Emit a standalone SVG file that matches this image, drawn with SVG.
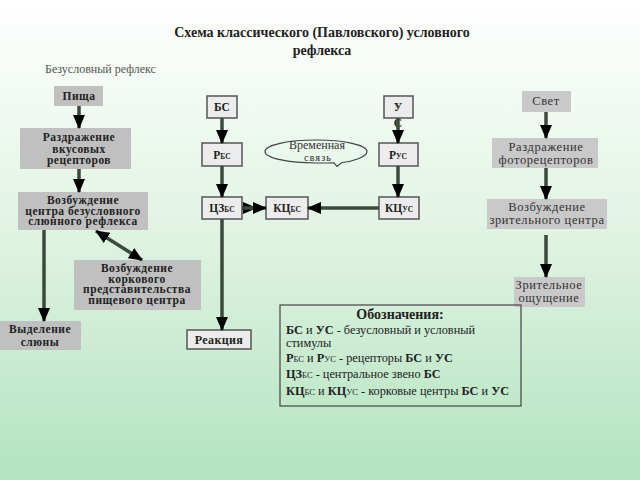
<svg xmlns="http://www.w3.org/2000/svg" width="640" height="480" viewBox="0 0 640 480" font-family="'Liberation Serif', 'DejaVu Serif', 'Times New Roman', serif">
<defs>
<linearGradient id="bg" x1="0" y1="0" x2="0" y2="1">
<stop offset="0" stop-color="#ffffff"/>
<stop offset="0.5" stop-color="#dff3e2"/>
<stop offset="1" stop-color="#b3e3bf"/>
</linearGradient>
<marker id="ah" viewBox="0 0 14 12" refX="13" refY="6" markerWidth="14" markerHeight="12" markerUnits="userSpaceOnUse" orient="auto-start-reverse">
<path d="M0,0 L14,6 L0,12 z" fill="#000"/>
</marker>
<style>
text{font-family:'Liberation Serif','DejaVu Serif','Times New Roman',serif}
.t{fill:#222}
.b{font-weight:bold}
.gl{fill:#c0c0c0}
.gr{fill:#c9c9c9}
.lt{fill:#ececec;stroke:#555;stroke-width:1.5}
.lb{font-weight:bold;font-size:11.5px;fill:#222;text-anchor:middle;letter-spacing:0.5px}
.mb{font-weight:bold;font-size:11.5px;fill:#222;text-anchor:middle}
.rt{font-size:12.5px;fill:#333;text-anchor:middle;letter-spacing:0.6px}
.lg{font-size:12.3px;fill:#222}
.c{fill:none;stroke:#3a4a3c;stroke-width:3.5;marker-end:url(#ah)}
</style>
</defs>
<rect x="0" y="0" width="640" height="480" fill="url(#bg)"/>

<g id="title">
<text class="t b" x="322" y="37" font-size="14" text-anchor="middle">Схема классического (Павловского) условного</text>
<text class="t b" x="322" y="55" font-size="14" text-anchor="middle">рефлекса</text>
</g>
<text x="45" y="73" font-size="12" fill="#555">Безусловный рефлекс</text>

<g id="pishcha"><rect class="gl" x="54" y="86" width="49" height="20"/><text class="lb" x="79" y="100">Пища</text></g>
<g id="razdr-vkus"><rect class="gl" x="20" y="128" width="111" height="41"/>
<text class="lb" x="79" y="141">Раздражение</text><text class="lb" x="79" y="152.5">вкусовых</text><text class="lb" x="79" y="164">рецепторов</text></g>
<g id="vozb-centra"><rect class="gl" x="18" y="192" width="130" height="38"/>
<text class="lb" x="83" y="204">Возбуждение</text><text class="lb" x="83" y="214.5">центра безусловного</text><text class="lb" x="83" y="225">слюнного рефлекса</text></g>
<g id="vozb-kork"><rect class="gl" x="74" y="260" width="127" height="50"/>
<text class="lb" x="137" y="272">Возбуждение</text><text class="lb" x="137" y="282.5">коркового</text><text class="lb" x="137" y="293">представительства</text><text class="lb" x="137" y="303.5">пищевого центра</text></g>
<g id="vydelenie"><rect class="gl" x="0" y="321" width="81" height="29"/>
<text class="lb" x="40" y="333">Выделение</text><text class="lb" x="40" y="346">слюны</text></g>

<g id="bs"><rect class="lt" x="207" y="96" width="30" height="22"/><text class="mb" x="222" y="111">БС</text></g>
<g id="rbs"><rect class="lt" x="202" y="143" width="40" height="23"/><text class="mb" x="222" y="159">Р<tspan font-size="7.5">БС</tspan></text></g>
<g id="czbs"><rect class="lt" x="202" y="197" width="40" height="22"/><text class="mb" x="222" y="212">ЦЗ<tspan font-size="7.5">БС</tspan></text></g>
<g id="kcbs"><rect class="lt" x="266" y="197" width="42" height="22"/><text class="mb" x="287" y="212">КЦ<tspan font-size="7.5">БС</tspan></text></g>
<g id="us"><rect class="lt" x="384" y="96" width="29" height="22"/><text class="mb" x="398" y="111">У</text><text class="mb" x="398" y="127">С</text></g>
<g id="rus"><rect class="lt" x="379" y="143" width="39" height="23"/><text class="mb" x="398" y="159">Р<tspan font-size="7.5">УС</tspan></text></g>
<g id="kcus"><rect class="lt" x="379" y="197" width="40" height="22"/><text class="mb" x="399" y="212">КЦ<tspan font-size="7.5">УС</tspan></text></g>
<g id="reakciya"><rect class="lt" x="187" y="330" width="64" height="19"/><text class="mb" x="219" y="344" style="font-size:12px" letter-spacing="0.4">Реакция</text></g>

<g id="vremennaya">
<path d="M316,140 C344,140 367,145 367,151.5 C367,157 352,161.5 342,162.5 L337,166.5 L334,162.8 C328,163 322,163 316,163 C288,163 265,158 265,151.5 C265,145 288,140 316,140 z" fill="none" stroke="#444" stroke-width="1.2"/>
<text class="rt" x="317" y="149" style="font-size:12px;letter-spacing:0">Временная</text>
<text class="rt" x="318" y="161" style="font-size:10.5px;letter-spacing:1px">связь</text>
</g>

<g id="svet"><rect class="gr" x="522" y="91" width="49" height="21"/><text class="rt" x="546" y="105">Свет</text></g>
<g id="razdr-foto"><rect class="gr" x="492" y="138" width="106" height="30"/>
<text class="rt" x="546" y="151">Раздражение</text><text class="rt" x="546" y="163.5">фоторецепторов</text></g>
<g id="vozb-zrit"><rect class="gr" x="487" y="199" width="120" height="30"/>
<text class="rt" x="547" y="211">Возбуждение</text><text class="rt" x="547" y="224">зрительного центра</text></g>
<g id="zrit-oshch"><rect class="gr" x="514" y="277" width="71" height="30"/>
<text class="rt" x="549" y="289">Зрительное</text><text class="rt" x="549" y="302">ощущение</text></g>

<g id="legend">
<rect x="280" y="305" width="241" height="101" fill="none" stroke="#444" stroke-width="1.2"/>
<text class="t b" x="400" y="319" font-size="14" text-anchor="middle">Обозначения:</text>
<text class="lg" x="286" y="334"><tspan font-weight="bold">БС</tspan> и <tspan font-weight="bold">УС</tspan> - безусловный и условный</text>
<text class="lg" x="286" y="346.5">стимулы</text>
<text class="lg" x="286" y="362"><tspan font-weight="bold">Р</tspan><tspan font-size="8.5">БС</tspan> и <tspan font-weight="bold">Р</tspan><tspan font-size="8.5">УС</tspan> - рецепторы <tspan font-weight="bold">БС</tspan> и <tspan font-weight="bold">УС</tspan></text>
<text class="lg" x="286" y="378"><tspan font-weight="bold">ЦЗ</tspan><tspan font-size="8.5">БС</tspan> - центральное звено <tspan font-weight="bold">БС</tspan></text>
<text class="lg" x="286" y="395"><tspan font-weight="bold">КЦ</tspan><tspan font-size="8.5">БС</tspan> и <tspan font-weight="bold">КЦ</tspan><tspan font-size="8.5">УС</tspan> - корковые центры <tspan font-weight="bold">БС</tspan> и <tspan font-weight="bold">УС</tspan></text>
</g>

<g id="connectors">
<path class="c" d="M79,106 V128"/>
<path class="c" d="M79,169 V192"/>
<path class="c" d="M44,230 V321"/>
<path class="c" d="M96,231 L142,260" style="marker-start:url(#ah)"/>
<path class="c" d="M222,118 V143"/>
<path class="c" d="M222,166 V197"/>
<path class="c" d="M222,219 V330"/>
<path class="c" d="M242,208 H256"/>
<path class="c" d="M242,208 H266"/>
<path class="c" d="M379,208 H308"/>
<path class="c" d="M398,118 V143"/>
<path class="c" d="M398,166 V197"/>
<path class="c" d="M546,112 V138"/>
<path class="c" d="M546,168 V199"/>
<path class="c" d="M546,235 V277"/>
</g>
</svg>
